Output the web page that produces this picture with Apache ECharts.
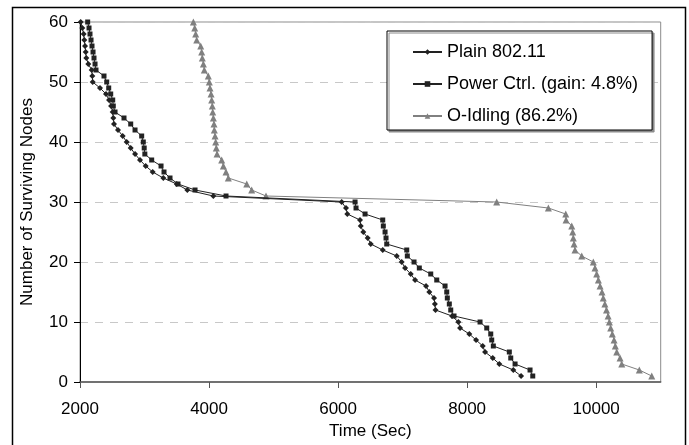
<!DOCTYPE html>
<html>
<head>
<meta charset="utf-8">
<script src="https://cdn.jsdelivr.net/npm/echarts@6/dist/echarts.min.js"></script>
<style>
html,body{margin:0;padding:0;background:#fff;}
#c{width:689px;height:445px;}
</style>
</head>
<body>
<div id="c"></div>
<script>
// Surviving node counts (60 down to 1)
const nodes = [60,59,58,57,56,55,54,53,52,51,50,49,48,47,46,45,44,43,42,41,40,39,38,37,36,35,34,33,32,31,
               30,29,28,27,26,25,24,23,22,21,20,19,18,17,16,15,14,13,12,11,10,9,8,7,6,5,4,3,2,1];
// Time (sec) at which each node count is reached
const plainTimes = [2011,2036,2057,2067,2078,2088,2098,2129,2181,2191,2197,2310,2403,2450,2481,2507,2516,2527,2589,2662,2724,2786,2853,2930,3018,3127,3291,3499,3663,4066,
                    6056,6123,6143,6340,6351,6391,6459,6506,6692,6909,6986,7038,7126,7193,7363,7414,7487,7500,7510,7766,7864,7890,8034,8138,8242,8278,8397,8499,8716,8836];
const powerTimes = [2119,2140,2155,2171,2186,2202,2217,2233,2248,2372,2414,2445,2476,2507,2516,2543,2682,2786,2853,2956,2981,2995,3005,3111,3256,3302,3395,3519,3783,4263,
                    6263,6278,6418,6692,6701,6728,6743,6754,7064,7073,7177,7259,7436,7529,7658,7684,7693,7724,7746,7797,8200,8304,8366,8381,8406,8654,8676,8743,8975,9017];
const idleTimes  = [3757,3778,3793,3809,3871,3886,3896,3912,3927,3989,4004,4015,4031,4041,4051,4057,4067,4077,4082,4093,4103,4113,4124,4196,4222,4263,4299,4584,4661,4883,
                    8458,9259,9528,9533,9621,9636,9646,9657,9672,9776,9956,9982,10008,10034,10060,10090,10110,10135,10160,10185,10205,10225,10250,10277,10297,10319,10370,10396,10669,10861];
const seriesNames = ['Plain 802.11','Power Ctrl. (gain: 4.8%)','O-Idling (86.2%)'];
const xTicks = [2000,4000,6000,8000,10000];
const yTicks = [0,10,20,30,40,50,60];

const pair = (times) => times.map((t,i) => [t, nodes[i]]);
const FONT = '"Liberation Sans", Arial, sans-serif';

const chart = echarts.init(document.getElementById('c'), null, {renderer:'canvas'});
chart.setOption({
  animation:false,
  backgroundColor:'#fff',
  graphic:[{
    type:'rect', silent:true, z:-10,
    shape:{x:12.5,y:7.5,width:673,height:450},
    style:{fill:'none',stroke:'#000',lineWidth:1.5}
  }],
  grid:{left:80,top:22,right:28.3,bottom:62.3,show:true,borderColor:'#8c8c8c',borderWidth:1,backgroundColor:'transparent'},
  legend:{
    orient:'vertical', left:387, top:31,
    padding:[12,14,5,25], itemGap:14,
    itemWidth:29, itemHeight:7,
    backgroundColor:'#fff', borderColor:'#000', borderWidth:1,
    shadowColor:'#8c8c8c', shadowOffsetX:2, shadowOffsetY:2, shadowBlur:0,
    textStyle:{fontFamily:FONT,fontSize:18,color:'#000'},
    data:seriesNames
  },
  xAxis:{
    type:'value', min:2000, max:11000, interval:2000,
    name:'Time (Sec)', nameLocation:'middle', nameGap:41,
    nameTextStyle:{fontFamily:FONT,fontSize:17,color:'#000'},
    axisLine:{onZero:false,lineStyle:{color:'#555',width:1.5}},
    axisTick:{show:true,length:6,inside:false,lineStyle:{color:'#555'},customValues:xTicks},
    axisLabel:{fontFamily:FONT,fontSize:17,color:'#000',margin:19,customValues:xTicks,formatter:(v)=>String(v)},
    splitLine:{show:false}
  },
  yAxis:{
    type:'value', min:0, max:60, interval:10,
    name:'Number of Surviving Nodes', nameLocation:'middle', nameGap:44,
    nameTextStyle:{fontFamily:FONT,fontSize:17,color:'#000'},
    axisLine:{show:true,lineStyle:{color:'#000',width:1}},
    axisTick:{show:true,length:6,inside:false,lineStyle:{color:'#000'},customValues:yTicks},
    axisLabel:{fontFamily:FONT,fontSize:17,color:'#000',margin:12,customValues:yTicks},
    splitLine:{show:true,lineStyle:{color:'#c8c8c8',type:[8,7],width:1}}
  },
  series:[
    {name:seriesNames[0],type:'line',data:pair(plainTimes),symbol:'diamond',symbolSize:6,
     lineStyle:{color:'#222',width:1},itemStyle:{color:'#222'},z:3},
    {name:seriesNames[1],type:'line',data:pair(powerTimes),symbol:'rect',symbolSize:5,
     lineStyle:{color:'#222',width:1},itemStyle:{color:'#222'},z:3},
    {name:seriesNames[2],type:'line',data:pair(idleTimes),symbol:'triangle',symbolSize:7,
     lineStyle:{color:'#808080',width:1},itemStyle:{color:'#808080'},z:2}
  ]
});
</script>
</body>
</html>
